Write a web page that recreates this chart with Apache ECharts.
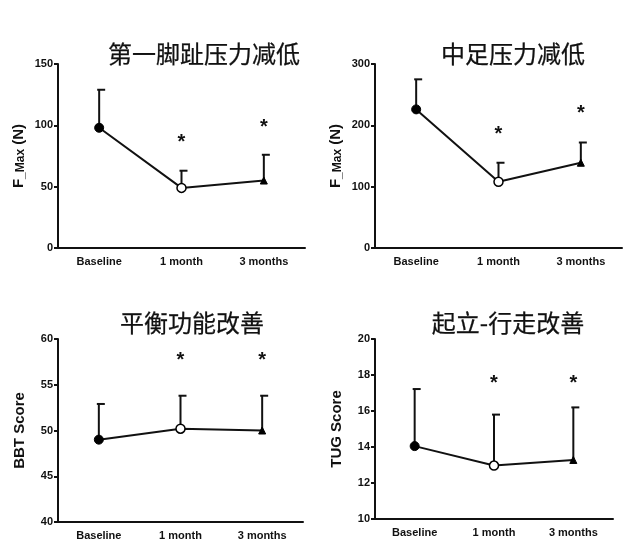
<!DOCTYPE html>
<html>
<head>
<meta charset="utf-8">
<script src="https://cdn.jsdelivr.net/npm/echarts@6/dist/echarts.min.js"></script>
<style>html,body{margin:0;padding:0;background:#fff;}#c{width:640px;height:554px;}</style>
</head>
<body>
<div id="c"></div>
<script>
// ---- data ----
const categories = ['Baseline', '1 month', '3 months'];

const toeTitle = '第一脚趾压力减低';
const toeMean  = [98, 49, 55];
const toeUpper = [129, 63, 76];
const toeStar  = [null, 90, 102];
const toeTicks = [0, 150, 50];

const midTitle = '中足压力减低';
const midMean  = [226, 108, 139];
const midUpper = [275, 139, 172];
const midStar  = [null, 194, 227];
const midTicks = [0, 300, 100];

const bbtTitle = '平衡功能改善';
const bbtMean  = [49.0, 50.2, 50.0];
const bbtUpper = [52.9, 53.8, 53.8];
const bbtStar  = [null, 58.2, 58.2];
const bbtTicks = [40, 60, 5];

const tugTitle = '起立-行走改善';
const tugMean  = [14.05, 12.97, 13.28];
const tugUpper = [17.22, 15.8, 16.2];
const tugStar  = [null, 17.8, 17.8];
const tugTicks = [10, 20, 2];

// ---- layout / style ----
const panels = [
  {title: toeTitle, mean: toeMean, upper: toeUpper, star: toeStar, ticks: toeTicks,
   name: '{a|F}{s|_Max}{a| (N)}', grid: {left: 58, top: 64, width: 247, height: 184}, tx: 199, ty: 37},
  {title: midTitle, mean: midMean, upper: midUpper, star: midStar, ticks: midTicks,
   name: '{a|F}{s|_Max}{a| (N)}', grid: {left: 375, top: 64, width: 247, height: 184}, tx: 508, ty: 37},
  {title: bbtTitle, mean: bbtMean, upper: bbtUpper, star: bbtStar, ticks: bbtTicks,
   name: '{a|BBT Score}', grid: {left: 58, top: 339, width: 245, height: 183}, tx: 187, ty: 306},
  {title: tugTitle, mean: tugMean, upper: tugUpper, star: tugStar, ticks: tugTicks,
   name: '{a|TUG Score}', grid: {left: 375, top: 339, width: 238, height: 180}, tx: 503, ty: 306}
];

const markerStyles = [
  {symbol: 'circle', symbolSize: 9, itemStyle: {color: '#000', borderColor: '#000', borderWidth: 1}},
  {symbol: 'circle', symbolSize: 9, itemStyle: {color: '#fff', borderColor: '#000', borderWidth: 1.5}},
  {symbol: 'triangle', symbolSize: 7, itemStyle: {color: '#000', borderColor: '#000', borderWidth: 1}}
];

const FONT = '"Liberation Sans", Arial, sans-serif';
const CJK = '"Noto Sans CJK SC", sans-serif';

const chart = echarts.init(document.getElementById('c'), null, {renderer: 'canvas'});

const option = {
  backgroundColor: '#fff',
  animation: false,
  title: [], grid: [], xAxis: [], yAxis: [], series: []
};

panels.forEach((p, i) => {
  option.title.push({
    text: p.title, left: p.tx, top: p.ty, textAlign: 'center',
    textStyle: {fontFamily: CJK, fontSize: 24, fontWeight: 'normal', color: '#111',
                textBorderColor: '#111', textBorderWidth: 0.25}
  });
  option.grid.push(Object.assign({containLabel: false}, p.grid));
  option.xAxis.push({
    type: 'category', gridIndex: i, data: categories, boundaryGap: true,
    axisLine: {lineStyle: {color: '#111', width: 2}},
    axisTick: {alignWithLabel: true, length: 5, lineStyle: {color: '#111', width: 2}},
    axisLabel: {fontFamily: FONT, fontWeight: 'bold', fontSize: 11, color: '#111', margin: 8},
    splitLine: {show: false}
  });
  option.yAxis.push({
    type: 'value', gridIndex: i, min: p.ticks[0], max: p.ticks[1], interval: p.ticks[2],
    name: p.name, nameLocation: 'middle', nameGap: 31, nameRotate: 90,
    nameTextStyle: {
      rich: {
        a: {fontFamily: FONT, fontWeight: 'bold', fontSize: 15, color: '#111'},
        s: {fontFamily: FONT, fontWeight: 'bold', fontSize: 12, color: '#111', padding: [5, 0, 0, 0]}
      }
    },
    axisLine: {show: true, lineStyle: {color: '#111', width: 2}},
    axisTick: {show: true, length: 4, lineStyle: {color: '#111', width: 2}},
    axisLabel: {fontFamily: FONT, fontWeight: 'bold', fontSize: 11, color: '#111', margin: 5},
    splitLine: {show: false}
  });
  // error bars (upper only)
  option.series.push({
    type: 'custom', xAxisIndex: i, yAxisIndex: i, z: 2,
    data: p.mean.map((m, k) => [k, m, p.upper[k]]),
    renderItem: (params, api) => {
      const p0 = api.coord([api.value(0), api.value(1)]);
      const p1 = api.coord([api.value(0), api.value(2)]);
      const st = {stroke: '#111', lineWidth: 2};
      return {type: 'group', children: [
        {type: 'line', shape: {x1: p0[0], y1: p0[1], x2: p1[0], y2: p1[1]}, style: st},
        {type: 'line', shape: {x1: p1[0] - 2, y1: p1[1], x2: p1[0] + 6, y2: p1[1]}, style: st}
      ]};
    }
  });
  // mean line with markers
  option.series.push({
    type: 'line', xAxisIndex: i, yAxisIndex: i, z: 3,
    lineStyle: {color: '#111', width: 2},
    data: p.mean.map((m, k) => Object.assign({value: m}, markerStyles[k]))
  });
  // significance asterisks
  option.series.push({
    type: 'custom', xAxisIndex: i, yAxisIndex: i, z: 4,
    data: p.star.map((s, k) => [k, s]).filter(d => d[1] !== null),
    renderItem: (params, api) => {
      const c = api.coord([api.value(0), api.value(1)]);
      return {type: 'text', x: c[0], y: c[1] + 5,
        style: {text: '*', fontFamily: FONT, fontWeight: 'bold', fontSize: 20, fill: '#111',
                textAlign: 'center', textVerticalAlign: 'middle'}};
    }
  });
});

chart.setOption(option);
</script>
</body>
</html>
